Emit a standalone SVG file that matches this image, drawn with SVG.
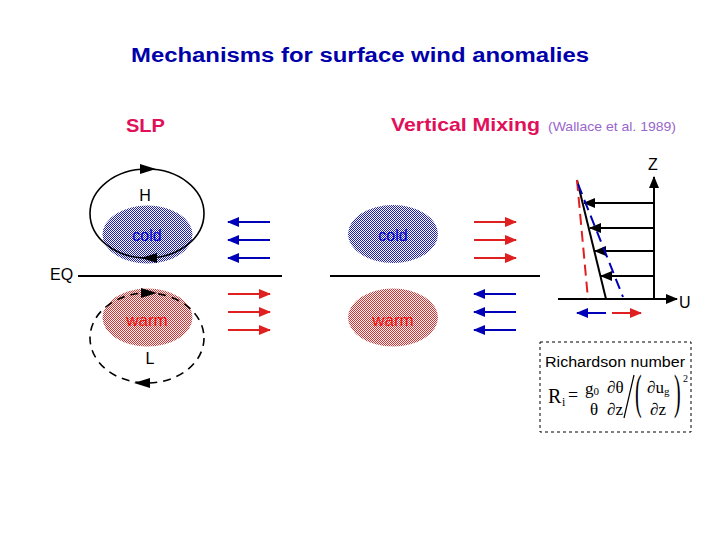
<svg xmlns="http://www.w3.org/2000/svg" width="720" height="540" viewBox="0 0 720 540">
<style>
.sans{font-family:"Liberation Sans",Arial,sans-serif}
.serif{font-family:"Liberation Serif","Times New Roman",serif;fill:#000}
.hd{font-weight:bold;fill:#e0105a;font-size:19px}
.lbl{font-size:16px;fill:#000}
.ax{stroke:#000;stroke-width:2;fill:none}
.blue{stroke:#0000b8;stroke-width:2;fill:none}
.red{stroke:#e02020;stroke-width:2;fill:none}
</style>
<defs>
<pattern id="pb" width="2" height="2" patternUnits="userSpaceOnUse"><rect width="2" height="2" fill="#f6f6ff"/><rect width="1" height="1" fill="#2020a8"/><rect x="1" y="1" width="1" height="1" fill="#2020a8"/></pattern>
<pattern id="pr" width="2" height="2" patternUnits="userSpaceOnUse"><rect width="2" height="2" fill="#fff2f2"/><rect width="1" height="1" fill="#cc3838"/><rect x="1" y="1" width="1" height="1" fill="#cc3838"/></pattern>
<marker id="mb" markerUnits="userSpaceOnUse" markerWidth="12" markerHeight="10" refX="11" refY="5" orient="auto"><path d="M0,0 L12,5 L0,10 z" fill="#0000b8"/></marker>
<marker id="mr" markerUnits="userSpaceOnUse" markerWidth="12" markerHeight="10" refX="11" refY="5" orient="auto"><path d="M0,0 L12,5 L0,10 z" fill="#e02020"/></marker>
<marker id="mk" markerUnits="userSpaceOnUse" markerWidth="12" markerHeight="10" refX="11" refY="5" orient="auto"><path d="M0,0 L12,5 L0,10 z" fill="#000"/></marker>
<path id="tri" d="M-8,-5 L8,0 L-8,5 z" fill="#000"/>
</defs>
<rect width="720" height="540" fill="#fff"/>

<g id="title"><text class="sans" x="131" y="62" font-size="20" font-weight="bold" fill="#0000aa" textLength="458" lengthAdjust="spacingAndGlyphs">Mechanisms for surface wind anomalies</text></g>
<g id="slp-heading"><text class="sans hd" x="126" y="132" textLength="39" lengthAdjust="spacingAndGlyphs">SLP</text></g>
<g id="vm-heading"><text class="sans hd" x="391" y="131" textLength="149" lengthAdjust="spacingAndGlyphs">Vertical Mixing</text>
<text class="sans" x="548" y="131" font-size="13" fill="#9966cc" textLength="128" lengthAdjust="spacingAndGlyphs">(Wallace et al. 1989)</text></g>

<g id="equator">
<text class="sans lbl" x="50" y="280">EQ</text>
<line x1="78" y1="276" x2="282" y2="276" class="ax"/>
<line x1="330" y1="276" x2="540" y2="276" class="ax"/>
</g>

<g id="high-cell">
<ellipse cx="147.5" cy="234.5" rx="45" ry="29" fill="url(#pb)"/>
<text class="sans" x="147" y="241" font-size="16" fill="#0000cc" text-anchor="middle">cold</text>
<ellipse cx="147" cy="213.5" rx="57" ry="44.5" fill="none" stroke="#000" stroke-width="1.6"/>
<use href="#tri" transform="translate(148,169)"/>
<use href="#tri" transform="translate(149,258) rotate(180)"/>
<text class="sans lbl" x="145" y="201" text-anchor="middle">H</text>
</g>

<g id="low-cell">
<ellipse cx="147.5" cy="317.5" rx="45" ry="29" fill="url(#pr)"/>
<text class="sans" x="147" y="326" font-size="17" fill="#ee1010" text-anchor="middle">warm</text>
<ellipse cx="147" cy="338" rx="57" ry="45" fill="none" stroke="#000" stroke-width="1.6" stroke-dasharray="8,6"/>
<use href="#tri" transform="translate(149,293)"/>
<use href="#tri" transform="translate(142,383) rotate(180)"/>
<text class="sans lbl" x="150" y="364" text-anchor="middle">L</text>
</g>

<g id="cold-mid">
<ellipse cx="393" cy="234" rx="45" ry="29" fill="url(#pb)"/>
<text class="sans" x="393" y="241" font-size="16" fill="#0000cc" text-anchor="middle">cold</text>
</g>
<g id="warm-mid">
<ellipse cx="393" cy="317.5" rx="45" ry="29" fill="url(#pr)"/>
<text class="sans" x="393" y="326" font-size="17" fill="#ee1010" text-anchor="middle">warm</text>
</g>

<g id="connectors">
<line x1="270" y1="222" x2="228" y2="222" class="blue" marker-end="url(#mb)"/>
<line x1="270" y1="240" x2="228" y2="240" class="blue" marker-end="url(#mb)"/>
<line x1="270" y1="258" x2="228" y2="258" class="blue" marker-end="url(#mb)"/>
<line x1="228" y1="294" x2="270" y2="294" class="red" marker-end="url(#mr)"/>
<line x1="228" y1="312" x2="270" y2="312" class="red" marker-end="url(#mr)"/>
<line x1="228" y1="330" x2="270" y2="330" class="red" marker-end="url(#mr)"/>
<line x1="474" y1="222" x2="516" y2="222" class="red" marker-end="url(#mr)"/>
<line x1="474" y1="240" x2="516" y2="240" class="red" marker-end="url(#mr)"/>
<line x1="474" y1="258" x2="516" y2="258" class="red" marker-end="url(#mr)"/>
<line x1="516" y1="294" x2="474" y2="294" class="blue" marker-end="url(#mb)"/>
<line x1="516" y1="312" x2="474" y2="312" class="blue" marker-end="url(#mb)"/>
<line x1="516" y1="330" x2="474" y2="330" class="blue" marker-end="url(#mb)"/>
</g>

<g id="profile">
<line x1="654" y1="299" x2="654" y2="177" class="ax" marker-end="url(#mk)"/>
<line x1="558" y1="299" x2="677" y2="299" class="ax" marker-end="url(#mk)"/>
<text class="sans lbl" x="648" y="170">Z</text>
<text class="sans lbl" x="679" y="308">U</text>
<line x1="654" y1="203" x2="584" y2="203" class="ax" marker-end="url(#mk)"/>
<line x1="654" y1="228" x2="590" y2="228" class="ax" marker-end="url(#mk)"/>
<line x1="654" y1="251" x2="595" y2="251" class="ax" marker-end="url(#mk)"/>
<line x1="654" y1="276" x2="601" y2="276" class="ax" marker-end="url(#mk)"/>
<line x1="577" y1="180" x2="606" y2="299" class="ax"/>
<line x1="577" y1="180" x2="588" y2="299" stroke="#e02020" stroke-width="2" stroke-dasharray="11,6"/>
<line x1="578" y1="184" x2="623" y2="297" stroke="#0000b8" stroke-width="2" stroke-dasharray="11,6"/>
<line x1="606" y1="313" x2="577" y2="313" class="blue" marker-end="url(#mb)"/>
<line x1="612" y1="313" x2="641" y2="313" class="red" marker-end="url(#mr)"/>
</g>

<g id="richardson">
<rect x="540" y="342" width="151" height="90" fill="none" stroke="#000" stroke-width="1" stroke-dasharray="3,3"/>
<text class="sans" x="545" y="367" font-size="14" fill="#000" textLength="140" lengthAdjust="spacingAndGlyphs">Richardson number</text>
<text class="serif" x="548" y="403" font-size="20">R</text>
<text class="serif" x="562" y="406" font-size="12">i</text>
<text class="serif" x="568" y="401" font-size="18">=</text>
<text class="serif" x="585" y="394" font-size="17">g<tspan font-size="11" dy="1">0</tspan></text>
<text class="serif" x="590" y="415" font-size="17">θ</text>
<text class="serif" x="607" y="393" font-size="17">∂θ</text>
<text class="serif" x="607" y="415" font-size="17">∂z</text>
<line x1="634" y1="375" x2="624" y2="418" stroke="#000" stroke-width="1.2"/>
<text class="serif" transform="translate(635,408) scale(1,2.4)" font-size="20">(</text>
<text class="serif" x="647" y="393" font-size="17">∂u<tspan font-size="11" dy="2">g</tspan></text>
<text class="serif" x="650" y="415" font-size="17">∂z</text>
<text class="serif" transform="translate(674,408) scale(1,2.4)" font-size="20">)</text>
<text class="serif" x="683" y="382" font-size="10">2</text>
</g>
</svg>
